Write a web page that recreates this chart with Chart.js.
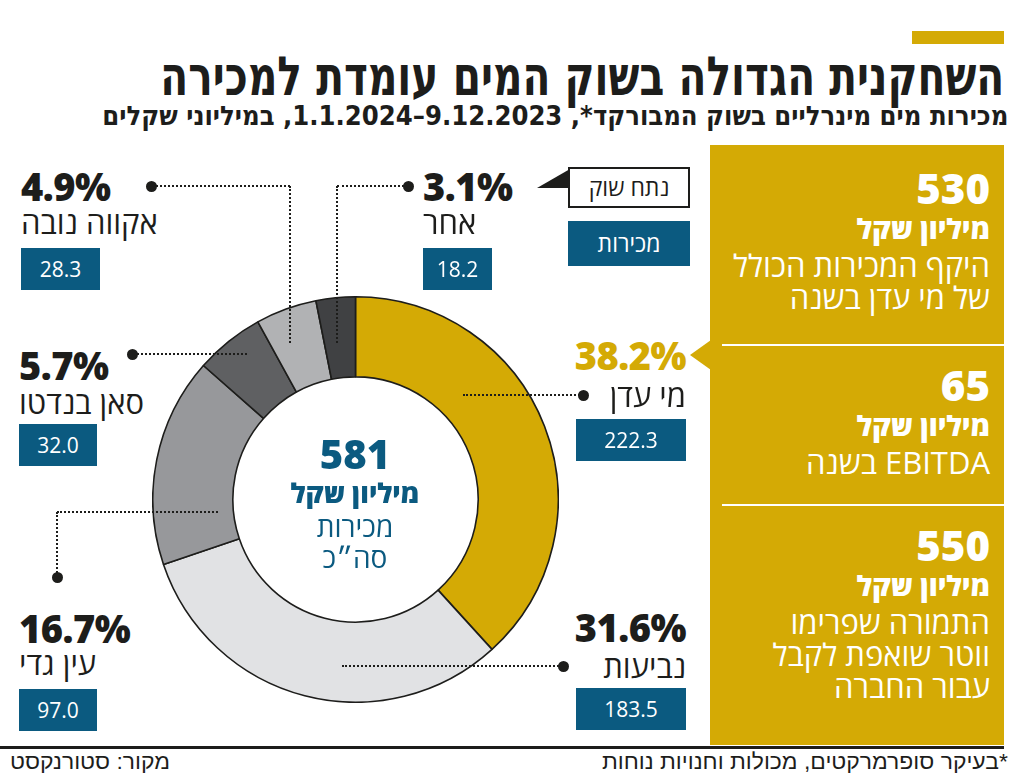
<!DOCTYPE html>
<html lang="he">
<head>
<meta charset="utf-8">
<script src="https://cdn.jsdelivr.net/npm/chart.js@4.4.1/dist/chart.umd.min.js"></script>
<style>
  html,body{margin:0;padding:0;background:#fff;}
  body{width:1024px;height:784px;position:relative;overflow:hidden;font-family:"Open Sans","Liberation Sans","DejaVu Sans",sans-serif;color:#1d1d1b;}
  .abs{position:absolute;white-space:nowrap;}
  .rtl{direction:rtl;}
  .pct{font-weight:800;font-size:38px;letter-spacing:-0.5px;}
  .name{font-size:31px;font-weight:400;}
  .box{position:absolute;background:#0b5a80;color:#fff;font-size:21px;text-align:center;}
  .hdot{position:absolute;height:0;border-top:2.5px dotted #1d1d1b;}
  .vdot{position:absolute;width:0;border-left:2.5px dotted #1d1d1b;}
  .dot{position:absolute;width:11px;height:11px;border-radius:50%;background:#1d1d1b;}
  .ptxt{color:#fff;text-align:right;right:34px;}
  .fit{transform-origin:right center;}
  .fitl{transform-origin:left center;}
</style>
</head>
<body>
<script>
// ---- data ----
const categories = ['מי עדן', 'נביעות', 'עין גדי', 'סאן בנדטו', 'אקווה נובה', 'אחר'];
const sales = [222.3, 183.5, 97.0, 32.0, 28.3, 18.2];
const shares = ['38.2%', '31.6%', '16.7%', '5.7%', '4.9%', '3.1%'];
const sliceColors = ['#d4aa05', '#e1e2e4', '#97989b', '#5f6062', '#b1b2b4', '#404143'];
const totalSales = '581';
const panelNumbers = ['530', '65', '550'];
</script>

<!-- header -->
<div class="abs" style="left:912px;top:31px;width:92px;height:13px;background:#d4aa05;"></div>
<div id="title" class="abs rtl fit" data-w="844" style="right:20px;top:46px;font-family:'DejaVu Sans',sans-serif;font-weight:700;font-size:54px;line-height:62px;">השחקנית הגדולה בשוק המים עומדת למכירה</div>
<div id="subtitle" class="abs rtl fit" data-w="906" style="right:16px;top:100px;font-family:'DejaVu Sans',sans-serif;font-weight:700;font-size:27px;line-height:32px;">מכירות מים מינרליים בשוק המבורקד*, 9.12.2023–1.1.2024, במיליוני שקלים</div>

<!-- chart -->
<div id="chartWrap" style="position:absolute;left:152px;top:296px;width:407px;height:407px;">
  <canvas id="c" width="407" height="407"></canvas>
</div>

<!-- center text -->
<div class="abs" style="left:255px;top:432px;width:200px;text-align:center;color:#0b5a80;font-weight:800;font-size:40px;line-height:44px;" id="total"></div>
<div class="abs rtl" style="left:255px;top:476px;width:200px;text-align:center;color:#0b5a80;font-weight:800;font-size:27px;line-height:34px;">מיליון שקל</div>
<div class="abs rtl" style="left:255px;top:510px;width:200px;text-align:center;color:#0b5a80;font-weight:400;font-size:28px;line-height:32px;">מכירות</div>
<div class="abs rtl" style="left:255px;top:541px;width:200px;text-align:center;color:#0b5a80;font-weight:400;font-size:28px;line-height:32px;">סה״כ</div>

<!-- market share legend box -->
<div class="abs rtl" style="left:568px;top:167px;width:118px;height:37px;border:2px solid #1d1d1b;background:#fff;text-align:center;font-size:23px;line-height:37px;">נתח שוק</div>
<svg class="abs" style="left:530px;top:160px;" width="45" height="40"><polygon points="7,28 40,9 40,28" fill="#1d1d1b"/></svg>
<div class="box rtl" style="left:568px;top:221px;width:122px;height:45px;line-height:45px;font-size:23px;">מכירות</div>

<!-- gold panel -->
<div class="abs" style="left:710px;top:145px;width:294px;height:600px;background:#d4aa05;"></div>
<svg class="abs" style="left:688px;top:338px;" width="24" height="34"><polygon points="2,17 23,2 23,32" fill="#d4aa05"/></svg>
<div class="abs" style="left:722px;top:344px;width:282px;height:2px;background:#fff;"></div>
<div class="abs" style="left:722px;top:504px;width:282px;height:2px;background:#fff;"></div>
<div id="panel"></div>

<!-- footer -->
<div class="abs" style="left:0;top:746px;width:1004px;height:3px;background:#1d1d1b;"></div>
<div class="abs rtl fit" data-w="406" style="right:16px;top:749px;font-family:'Liberation Sans','DejaVu Sans',sans-serif;font-size:22px;line-height:26px;">*בעיקר סופרמרקטים, מכולות וחנויות נוחות</div>
<div class="abs rtl fitl" data-w="160" style="left:10px;top:749px;font-family:'Liberation Sans','DejaVu Sans',sans-serif;font-size:22px;line-height:26px;">מקור: סטורנקסט</div>

<div id="labels"></div>

<script>
// fit condensed text to target widths
document.querySelectorAll('[data-w]').forEach(el => {
  const w = el.getBoundingClientRect().width;
  const target = +el.dataset.w;
  el.style.transform = `scaleX(${target / w})`;
});

// layout of the annotation groups (positions only)
const labelLayout = [
  {align:'right', x:686, pctY:355, nameY:395, boxY:419, boxW:110, pctColor:'#d4aa05',
   leader:{dot:[583,395], h:[463,583,395]}},
  {align:'right', x:686, pctY:627, nameY:666, boxY:688, boxW:110, pctColor:'#1d1d1b',
   leader:{dot:[563,666], h:[342,563,666]}},
  {align:'left', x:19, pctY:628, nameY:663, boxY:689, boxW:78, pctColor:'#1d1d1b',
   leader:{dot:[57,577], v:[57,512,577], h:[57,218,512]}},
  {align:'left', x:19, pctY:365, nameY:402, boxY:424, boxW:78, pctColor:'#1d1d1b',
   leader:{dot:[132,354], h:[132,247,354]}},
  {align:'left', x:21, pctY:186, nameY:222, boxY:248, boxW:79, pctColor:'#1d1d1b',
   leader:{dot:[151,186], h:[151,290,186], v:[290,186,343]}},
  {align:'left', x:423, pctY:186, nameY:222, boxY:248, boxW:69, pctColor:'#1d1d1b',
   leader:{dot:[408,186], h:[337,408,186], v:[337,186,343]}}
];

document.getElementById('total').textContent = totalSales;

const L = document.getElementById('labels');
function add(html){ L.insertAdjacentHTML('beforeend', html); }
categories.forEach((cat, i) => {
  const g = labelLayout[i];
  const pos = g.align === 'right' ? `right:${1024 - g.x}px;text-align:right;` : `left:${g.x}px;text-align:left;`;
  add(`<div class="abs pct" style="${pos}top:${g.pctY - 24}px;line-height:48px;color:${g.pctColor};">${shares[i]}</div>`);
  add(`<div class="abs name rtl" style="${pos}top:${g.nameY - 20}px;line-height:40px;">${cat}</div>`);
  const bx = g.align === 'right' ? g.x - g.boxW : g.x;
  add(`<div class="box" style="left:${bx}px;top:${g.boxY}px;width:${g.boxW}px;height:42px;line-height:42px;">${sales[i].toFixed(1)}</div>`);
  const ld = g.leader;
  if (ld.h) add(`<div class="hdot" style="left:${ld.h[0]}px;top:${ld.h[2] - 1}px;width:${ld.h[1] - ld.h[0]}px;"></div>`);
  if (ld.v) add(`<div class="vdot" style="left:${ld.v[0] - 1}px;top:${ld.v[1]}px;height:${ld.v[2] - ld.v[1]}px;"></div>`);
  add(`<div class="dot" style="left:${ld.dot[0] - 5.5}px;top:${ld.dot[1] - 5.5}px;"></div>`);
});

// gold panel text
const panelText = [
  {top:165, lines:['היקף המכירות הכולל', 'של מי עדן בשנה']},
  {top:362, lines:['EBITDA בשנה']},
  {top:522, lines:['התמורה שפרימו', 'ווטר שואפת לקבל', 'עבור החברה']}
];
const P = document.getElementById('panel');
panelText.forEach((p, i) => {
  let html = `<div class="abs ptxt" style="top:${p.top}px;font-weight:800;font-size:42px;line-height:46px;">${panelNumbers[i]}</div>`;
  html += `<div class="abs ptxt rtl" style="top:${p.top + 46}px;font-weight:800;font-size:28px;line-height:34px;">מיליון שקל</div>`;
  p.lines.forEach((ln, j) => {
    html += `<div class="abs ptxt rtl" style="top:${p.top + 84 + j * 32}px;font-weight:400;font-size:31px;line-height:32px;">${ln}</div>`;
  });
  P.insertAdjacentHTML('beforeend', html);
});

new Chart(document.getElementById('c'), {
  type: 'doughnut',
  data: {
    labels: categories,
    datasets: [{
      data: sales,
      backgroundColor: sliceColors,
      borderColor: '#1d1d1b',
      borderWidth: 1.6,
      borderAlign: 'center'
    }]
  },
  options: {
    responsive: false,
    animation: false,
    cutout: '60.5%',
    layout: {padding: 0},
    plugins: {legend: {display: false}, tooltip: {enabled: false}}
  }
});
</script>
</body>
</html>
